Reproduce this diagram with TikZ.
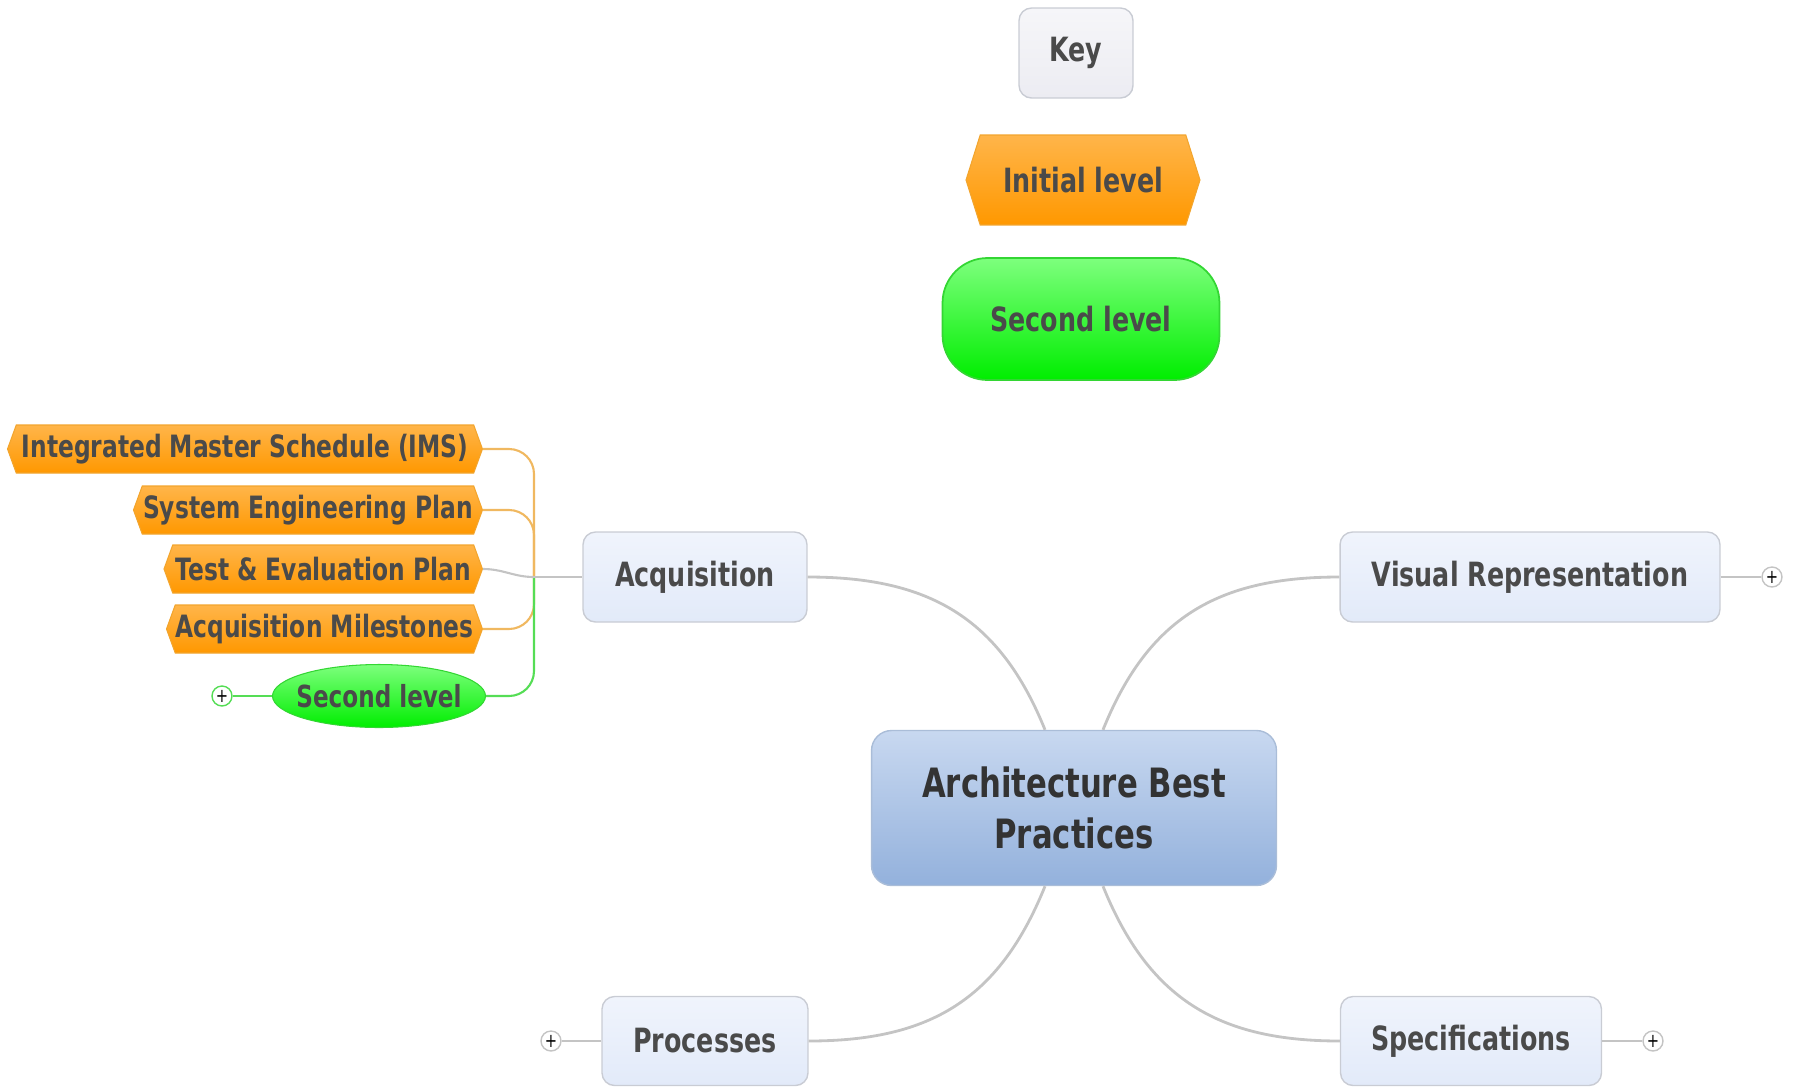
\documentclass[tikz,border=0pt]{standalone}
\usepackage{fontspec}
\setmainfont{DejaVu Sans}[FakeStretch=0.76]
\usetikzlibrary{shapes.geometric,shapes.symbols}
\definecolor{txt}{HTML}{4A4A4A}
\definecolor{toptxt}{HTML}{333333}
\definecolor{boxline}{HTML}{C9CCD4}
\definecolor{boxtop}{HTML}{F0F4FC}
\definecolor{boxbot}{HTML}{E2EAF9}
\definecolor{keytop}{HTML}{F6F6F9}
\definecolor{keybot}{HTML}{ECECF2}
\definecolor{ctrtop}{HTML}{C8D8F0}
\definecolor{ctrbot}{HTML}{93B1DC}
\definecolor{ctrline}{HTML}{AABDD8}
\definecolor{orgtop}{HTML}{FFB54A}
\definecolor{orgbot}{HTML}{FF9800}
\definecolor{orgline}{HTML}{F2A52E}
\definecolor{grntop}{HTML}{7DFF7D}
\definecolor{grnbot}{HTML}{00EE00}
\definecolor{grnline}{HTML}{33D633}
\definecolor{linkgray}{HTML}{C4C4C4}
\definecolor{linkorg}{HTML}{F0B860}
\definecolor{linkgrn}{HTML}{55DD55}
\begin{document}
\begin{tikzpicture}[x=0.02cm,y=-0.02cm]
			\tikzstyle{topic}=[rectangle,rounded corners=0.25cm,draw=boxline,line width=0.8pt,top color=boxtop,bottom color=boxbot,text=txt,font=\fontsize{19}{23}\selectfont\bfseries,minimum height=1.8cm,inner sep=0]
			\tikzstyle{central}=[rectangle,rounded corners=0.4cm,draw=ctrline,line width=0.8pt,top color=ctrtop,bottom color=ctrbot,text=toptxt,font=\fontsize{23}{29}\selectfont\bfseries,align=center,inner sep=0]
			\tikzstyle{hexa}=[signal,signal to=west and east,signal pointer angle=140,draw=orgline,line width=0.6pt,top color=orgtop,bottom color=orgbot,text=txt,font=\fontsize{17.5}{20}\selectfont\bfseries,minimum height=0.96cm,inner sep=0]
			\tikzstyle{plus}=[circle,draw=linkgray,fill=white,line width=0.8pt,minimum size=0.4cm,inner sep=0,font=\fontsize{11}{11}\selectfont]
			\tikzstyle{link}=[draw=linkgray,line width=1.6pt]
			\tikzstyle{orglink}=[draw=linkorg,line width=1.2pt,rounded corners=0.5cm]
			\tikzstyle{grnlink}=[draw=linkgrn,line width=1.2pt,rounded corners=0.5cm]
			
			\useasboundingbox (0,0) rectangle (1793,1086);
			
			\node [topic,top color=keytop,bottom color=keybot,draw=boxline,minimum width=2.28cm] (key) at (1076,53) {Key};
			\node [hexa,signal pointer angle=145,minimum width=4.68cm,minimum height=1.8cm,font=\fontsize{19}{23}\selectfont\bfseries] (kini) at (1083,180) {Initial level};
			\node [rectangle,rounded corners=0.9cm,draw=grnline,line width=1pt,top color=grntop,bottom color=grnbot,text=txt,font=\fontsize{19}{23}\selectfont\bfseries,minimum width=5.54cm,minimum height=2.44cm,inner sep=0] (ksec) at (1081,319) {Second level};
			
			\node [central,minimum width=8.1cm,minimum height=3.1cm] (abp) at (1074,808) {Architecture Best\\Practices};
			\node [topic,minimum width=4.48cm] (acq) at (695,577) {Acquisition};
			\node [topic,minimum width=7.6cm] (vis) at (1530,577) {Visual Representation};
			\node [topic,minimum width=4.12cm,minimum height=1.78cm] (proc) at (705,1041) {Processes};
			\node [topic,minimum width=5.22cm,minimum height=1.78cm] (spec) at (1471,1041) {Specifications};
			
			\node [hexa,anchor=east,minimum width=9.5cm] (ims) at (483,449) {Integrated Master Schedule (IMS)};
			\node [hexa,anchor=east,minimum width=6.98cm] (sep) at (483,510) {System Engineering Plan};
			\node [hexa,anchor=east,minimum width=6.37cm] (tep) at (483,569) {Test \& Evaluation Plan};
			\node [hexa,anchor=east,minimum width=6.32cm] (am) at (483,629) {Acquisition Milestones};
			\node [ellipse,draw=grnline,line width=0.6pt,top color=grntop,bottom color=grnbot,text=txt,font=\fontsize{17.3}{20}\selectfont\bfseries,minimum width=4.26cm,minimum height=1.26cm,inner xsep=-0.2cm,inner ysep=0] (sl) at (379,696) {Second level};
			
			\node [plus,draw=linkgrn] (slplus) at (222,696) {+};
			\node [plus] (visplus) at (1772,577) {+};
			\node [plus] (procplus) at (551,1041) {+};
			\node [plus] (specplus) at (1653,1041) {+};
			
			\coordinate (hub) at (534,577);
			
			\draw[orglink] (ims.east) -| (hub);
			\draw[orglink] (sep.east) -| (hub);
			\draw[orglink] (am.east) -| (hub);
			\draw[grnlink] (sl.east) -| (hub);
			\draw[link,line width=1.2pt] (tep.east) to[out=0,in=180] (hub);
			\draw[link,line width=1.2pt] (hub)--(acq.west);
			\draw[grnlink] (sl.west)--(slplus);
			
			\draw[link] (acq.east) to[out=0,in=112,looseness=1.1] ([xshift=-0.58cm]abp.north);
			\draw[link] (vis.west) to[out=180,in=68,looseness=1.1] ([xshift=0.58cm]abp.north);
			\draw[link] ([xshift=-0.58cm]abp.south) to[out=-112,in=0,looseness=1.1] (proc.east);
			\draw[link] ([xshift=0.58cm]abp.south) to[out=-68,in=180,looseness=1.1] (spec.west);
			
			\draw[link,line width=1pt] (vis.east)--(visplus);
			\draw[link,line width=1pt] (proc.west)--(procplus);
			\draw[link,line width=1pt] (spec.east)--(specplus);
		\end{tikzpicture}
\end{document}
